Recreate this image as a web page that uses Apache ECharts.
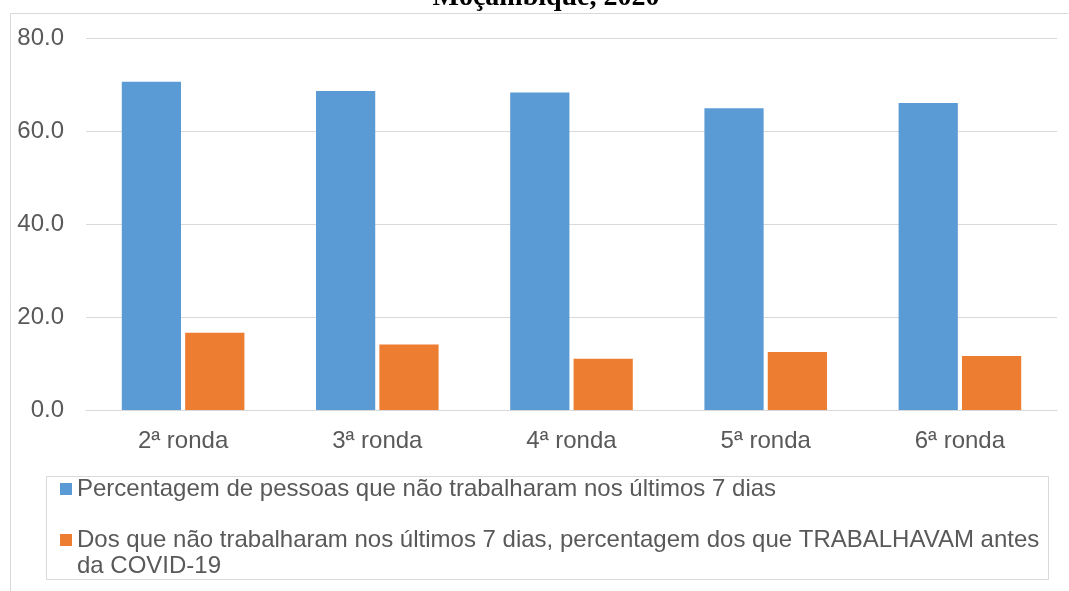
<!DOCTYPE html>
<html>
<head>
<meta charset="utf-8">
<script src="https://cdn.jsdelivr.net/npm/echarts@6/dist/echarts.min.js"></script>
<style>
html,body{margin:0;padding:0;background:#fff;}
#chart{width:1069px;height:591px;}
</style>
</head>
<body>
<div id="chart"></div>
<script>
var categories = ['2ª ronda', '3ª ronda', '4ª ronda', '5ª ronda', '6ª ronda'];
var seriesNames = [
  'Percentagem de pessoas que não trabalharam nos últimos 7 dias',
  'Dos que não trabalharam nos últimos 7 dias, percentagem dos que TRABALHAVAM antes\nda COVID-19'
];
var naoTrabalharam = [70.6, 68.6, 68.3, 64.9, 66.0];
var trabalhavamAntes = [16.6, 14.1, 11.0, 12.5, 11.6];
var titleText = 'Moçambique, 2020';

var chart = echarts.init(document.getElementById('chart'));
var font = 'Liberation Sans, Arial, sans-serif';
var txt = '#595959';
chart.setOption({
  animation: false,
  backgroundColor: '#fff',
  graphic: [
    {type: 'polyline', shape: {points: [[10.5, 600], [10.5, 13.5], [1068.5, 13.5]]},
     style: {stroke: '#d9d9d9', lineWidth: 1, fill: null}, silent: true},
    {type: 'rect', shape: {x: 46.5, y: 476.5, width: 1002, height: 103},
     style: {stroke: '#d9d9d9', lineWidth: 1, fill: null}, silent: true},
    {type: 'text', x: 546, y: 12, silent: true,
     style: {text: titleText, fontFamily: 'Liberation Serif, Times New Roman, serif', fontWeight: 'bold',
             fontSize: 28, fill: '#000', textAlign: 'center', textVerticalAlign: 'bottom'}}
  ],
  grid: {left: 86, right: 12, top: 38, bottom: 181},
  xAxis: {
    type: 'category', data: categories,
    axisLine: {lineStyle: {color: '#d9d9d9', width: 1}},
    axisTick: {show: false},
    axisLabel: {color: txt, fontSize: 24, fontFamily: font, margin: 19}
  },
  yAxis: {
    type: 'value', min: 0, max: 80, interval: 20,
    axisLine: {show: false}, axisTick: {show: false},
    splitLine: {lineStyle: {color: '#d9d9d9', width: 1}},
    axisLabel: {color: txt, fontSize: 24, fontFamily: font, margin: 22, padding: [6, 0, 0, 0],
                formatter: function (v) { return v.toFixed(1); }}
  },
  legend: [
    {
      left: 60, top: 476, padding: 0,
      itemWidth: 12, itemHeight: 12, icon: 'rect',
      textStyle: {color: txt, fontSize: 24, fontFamily: font, lineHeight: 26},
      data: [seriesNames[0]]
    },
    {
      left: 60, top: 501, padding: 0,
      itemWidth: 12, itemHeight: 12, icon: 'rect',
      textStyle: {color: txt, fontSize: 24, fontFamily: font, lineHeight: 26},
      formatter: function (name) { return '\n' + name; },
      data: [seriesNames[1]]
    }
  ],
  series: [
    {name: seriesNames[0], type: 'bar', data: naoTrabalharam, barWidth: '30.5%', barGap: '7%',
     itemStyle: {color: '#5B9BD5'}},
    {name: seriesNames[1], type: 'bar', data: trabalhavamAntes, barWidth: '30.5%', barGap: '7%',
     itemStyle: {color: '#ED7D31'}}
  ]
});
</script>
</body>
</html>
